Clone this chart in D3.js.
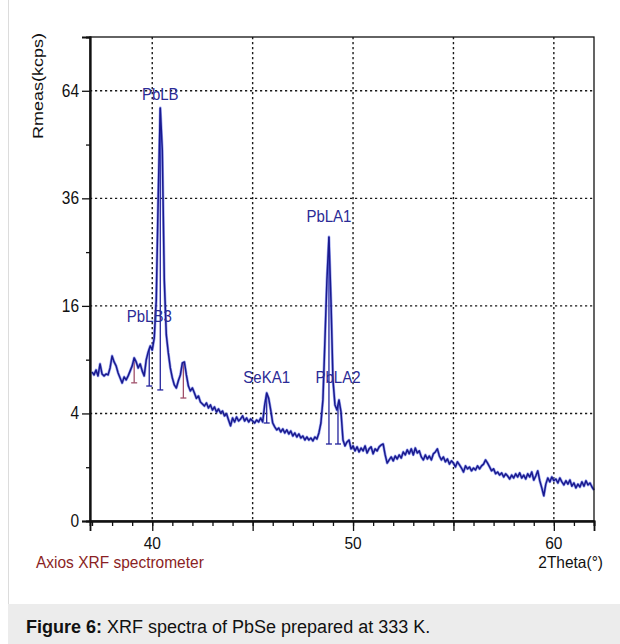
<!DOCTYPE html>
<html>
<head>
<meta charset="utf-8">
<script src="https://cdn.jsdelivr.net/npm/d3@7"></script>
<style>
  html, body { margin: 0; padding: 0; background: #fff; }
  svg { display: block; font-family: Arial, "Liberation Sans", sans-serif; }
</style>
</head>
<body>
<svg id="chart" width="620" height="644"></svg>
<script>
// XRF spectrum of PbSe, sampled every 0.1 degree 2Theta from 37.0 to 62.0
const twoTheta = d3.range(251).map(i => +(37 + i * 0.1).toFixed(1));
const intensity = [
  7.68, 7.38, 7.89, 7.28, 8.53, 7.48, 7.28, 7.48, 7.38, 8.10,
  9.42, 8.75, 8.32, 7.58, 7.08, 6.59, 7.18, 6.88, 7.28, 7.79,
  8.32, 9.20, 8.75, 8.10, 8.53, 7.79, 7.28, 8.97, 9.89, 10.6,
  10.1, 11.6, 16.9, 36.8, 59.0, 47.6, 20.1, 12.0, 9.77, 8.10,
  7.08, 6.40, 6.12, 6.80, 7.38, 8.64, 8.75, 7.38, 6.30, 5.85,
  6.12, 5.67, 5.20, 5.40, 4.90, 4.74, 4.58, 4.82, 4.42, 4.66,
  4.26, 4.50, 4.11, 4.34, 4.04, 4.18, 3.82, 3.97, 3.53, 3.13,
  3.67, 3.39, 3.74, 3.46, 3.60, 3.82, 3.46, 3.67, 3.39, 3.60,
  3.46, 3.32, 3.53, 3.39, 3.67, 3.39, 4.66, 5.67, 5.20, 4.26,
  3.32, 3.06, 2.87, 2.99, 2.74, 2.93, 2.68, 2.87, 2.62, 2.80,
  2.50, 2.68, 2.44, 2.62, 2.38, 2.50, 2.27, 2.44, 2.27, 2.38,
  2.22, 2.44, 2.33, 2.68, 3.32, 5.07, 11.3, 20.1, 27.9, 16.9,
  6.88, 4.66, 4.26, 5.07, 4.11, 2.27, 1.95, 2.16, 2.27, 1.80,
  1.95, 1.70, 1.90, 1.65, 1.84, 1.70, 1.95, 1.60, 1.80, 1.90,
  1.56, 1.80, 1.70, 1.90, 2.00, 2.05, 1.51, 1.16, 1.29, 1.42,
  1.25, 1.46, 1.33, 1.51, 1.37, 1.65, 1.51, 1.75, 1.56, 1.80,
  1.51, 1.84, 1.60, 1.70, 1.42, 1.29, 1.51, 1.33, 1.46, 1.29,
  1.56, 1.65, 1.80, 1.46, 1.29, 1.42, 1.21, 1.33, 1.12, 1.25,
  1.16, 1.01, 1.21, 1.09, 0.97, 0.83, 1.05, 0.94, 1.01, 0.87,
  0.97, 0.90, 1.05, 0.94, 1.05, 1.12, 1.29, 1.16, 1.01, 0.87,
  0.94, 0.77, 0.83, 0.73, 0.80, 0.67, 0.77, 0.70, 0.61, 0.73,
  0.64, 0.77, 0.67, 0.80, 0.64, 0.73, 0.61, 0.77, 0.67, 0.83,
  0.58, 0.70, 0.87, 0.56, 0.38, 0.22, 0.47, 0.64, 0.53, 0.67,
  0.56, 0.61, 0.50, 0.64, 0.53, 0.45, 0.56, 0.47, 0.58, 0.42,
  0.50, 0.38, 0.47, 0.40, 0.53, 0.42, 0.56, 0.45, 0.50, 0.40,
  0.33
];

// Identified lines: name, angle and fitted height (kcps)
const peakNames   = ["PbLB", "PbLA1", "PbLB3", "SeKA1", "PbLA2"];
const peakAngles  = [40.4, 48.8, 39.85, 45.7, 49.25];
const peakHeights = [60.2, 30.1, 13.2, 6.2, 6.2];

// Peak markers: angle, background level at the foot, assigned or not
const markerAngles   = [39.1, 39.85, 40.4, 41.55, 45.7, 48.8, 49.25];
const markerBases    = [6.6, 6.3, 5.94, 5.23, 3.32, 2.05, 2.05];
const markerAssigned = [false, true, true, false, true, true, true];

// Axis ticks
const yTicks = [0, 4, 16, 36, 64];
const yMinorTicks = [1, 9, 25, 49];
const xMajorTicks = [40, 45, 50, 55, 60];
const xLabelled = [40, 50, 60];
const xMinorTicks = d3.range(37, 63);

const svg = d3.select("#chart");
const W = 620, H = 644;
const plot = { left: 90, right: 594, top: 37, bottom: 521 };

const x = d3.scaleLinear().domain([36.9, 62]).range([plot.left, plot.right]);
const y = d3.scaleSqrt().domain([0, 81]).range([plot.bottom, plot.top]);

const navy = "#23239c";
const labelBlue = "#2b2b96";
const textStretch = 1.15;

function addText(parent, px, py, str, opts = {}) {
  return parent.append("text")
    .attr("transform", `translate(${px},${py}) scale(1,${opts.stretch || textStretch})`)
    .attr("text-anchor", opts.anchor || "start")
    .attr("font-size", opts.size || 15.5)
    .attr("fill", opts.fill || "#111")
    .attr("font-weight", opts.weight || "normal")
    .text(str);
}

// page frame and caption panel
svg.append("rect").attr("width", W).attr("height", H).attr("fill", "#fff");
svg.append("line").attr("x1", 8.5).attr("x2", 8.5).attr("y1", 0).attr("y2", 604)
  .attr("stroke", "#dcdcdc").attr("stroke-width", 1);
svg.append("rect").attr("x", 8).attr("y", 604).attr("width", W - 8).attr("height", H - 604)
  .attr("fill", "#ececec");

const caption = svg.append("text").attr("x", 26).attr("y", 633)
  .attr("font-size", 18).attr("fill", "#111");
caption.append("tspan").attr("font-weight", "bold").text("Figure 6:");
caption.append("tspan").text(" XRF spectra of PbSe prepared at 333 K.");

// dashed grid
const grid = svg.append("g").attr("stroke", "#1a1a1a").attr("stroke-width", 1.4)
  .attr("stroke-dasharray", "2.2,2.8");
grid.selectAll("line.h").data(yTicks.filter(d => d > 0)).join("line")
  .attr("x1", plot.left).attr("x2", plot.right)
  .attr("y1", d => y(d)).attr("y2", d => y(d));
grid.selectAll("line.v").data(xMajorTicks).join("line")
  .attr("y1", plot.top).attr("y2", plot.bottom)
  .attr("x1", d => x(d)).attr("x2", d => x(d));

// peak markers
const markers = svg.append("g");
const bisect = d3.bisector(d => d).left;
function valueAt(a) {
  const i = Math.max(1, Math.min(twoTheta.length - 1, bisect(twoTheta, a)));
  const a0 = twoTheta[i - 1], a1 = twoTheta[i];
  const t = (a - a0) / (a1 - a0);
  return intensity[i - 1] + t * (intensity[i] - intensity[i - 1]);
}
markerAngles.forEach((a, i) => {
  const col = markerAssigned[i] ? navy : "#a0506a";
  const px = x(a);
  markers.append("line").attr("x1", px).attr("x2", px)
    .attr("y1", y(valueAt(a))).attr("y2", y(markerBases[i]))
    .attr("stroke", col).attr("stroke-width", 1.3);
  markers.append("line").attr("x1", px - 3).attr("x2", px + 3)
    .attr("y1", y(markerBases[i])).attr("y2", y(markerBases[i]))
    .attr("stroke", col).attr("stroke-width", 1.3);
});

// spectrum
const pts = twoTheta.map((a, i) => [a, intensity[i]]);
const line = d3.line().x(d => x(d[0])).y(d => y(d[1]));
svg.append("path").datum(pts).attr("d", line)
  .attr("fill", "none").attr("stroke", "#4d5fe6").attr("stroke-width", 2.8)
  .attr("stroke-opacity", 0.55).attr("stroke-linejoin", "round");
svg.append("path").datum(pts).attr("d", line)
  .attr("fill", "none").attr("stroke", "#1a1a8e").attr("stroke-width", 1.5)
  .attr("stroke-linejoin", "round");

// peak labels
peakNames.forEach((n, i) => {
  addText(svg, x(peakAngles[i]), y(peakHeights[i]) - 4, n,
    { anchor: "middle", fill: labelBlue, size: 15 });
});

// plot frame
svg.append("rect").attr("x", plot.left).attr("y", plot.top)
  .attr("width", plot.right - plot.left).attr("height", plot.bottom - plot.top)
  .attr("fill", "none").attr("stroke", "#111").attr("stroke-width", 1.3);

// y axis
const yAxis = svg.append("g").attr("transform", `translate(${plot.left},0)`)
  .call(d3.axisLeft(y).tickValues(yTicks).tickSize(8).tickFormat(d3.format("d")));
const yMinor = svg.append("g").attr("transform", `translate(${plot.left},0)`)
  .call(d3.axisLeft(y).tickValues(yMinorTicks).tickSize(4).tickFormat(""));
[yAxis, yMinor].forEach(g => {
  g.select(".domain").attr("stroke", "#111").attr("stroke-width", 1.8);
  g.selectAll(".tick line").attr("stroke", "#111").attr("stroke-width", 1.3);
});
yAxis.selectAll(".tick text").remove();
yTicks.forEach(v => addText(svg, 79, y(v) + 6, String(v), { anchor: "end" }));

// x axis
const xAxis = svg.append("g").attr("transform", `translate(0,${plot.bottom})`)
  .call(d3.axisBottom(x).tickValues(xMajorTicks).tickSize(10).tickFormat(""));
const xMinor = svg.append("g").attr("transform", `translate(0,${plot.bottom})`)
  .call(d3.axisBottom(x).tickValues(xMinorTicks).tickSize(5).tickFormat(""));
[xAxis, xMinor].forEach(g => {
  g.select(".domain").attr("stroke", "#111").attr("stroke-width", 1.8);
  g.selectAll(".tick line").attr("stroke", "#111").attr("stroke-width", 1.3);
});
xLabelled.forEach(v => addText(svg, x(v), 549, String(v), { anchor: "middle", stretch: 1.08 }));

// axis titles and instrument note
svg.append("text")
  .attr("transform", `translate(43,86) rotate(-90)`)
  .attr("text-anchor", "middle")
  .attr("font-size", 15.5).attr("fill", "#111")
  .attr("textLength", 106).attr("lengthAdjust", "spacingAndGlyphs")
  .text("Rmeas(kcps)");
addText(svg, 603, 568, "2Theta(°)", { anchor: "end", stretch: 1.05 });
addText(svg, 36, 568, "Axios XRF spectrometer", { fill: "#8b1f24", stretch: 1.05 });
</script>
</body>
</html>
